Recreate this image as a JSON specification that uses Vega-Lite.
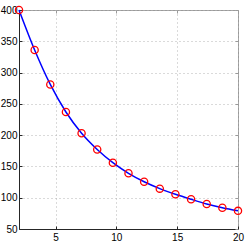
{
  "$schema": "https://vega.github.io/schema/vega-lite/v6.json",
  "width": 219,
  "height": 219,
  "autosize": "none",
  "padding": {"left": 19, "top": 10, "right": 11, "bottom": 12},
  "background": "white",
  "config": {
    "view": {"stroke": "#9a9a9a", "strokeWidth": 1},
    "axis": {
      "labelFont": "Liberation Sans",
      "labelFontSize": 10,
      "labelColor": "#000000",
      "domain": true,
      "domainColor": "#262626",
      "domainWidth": 1,
      "ticks": true,
      "tickColor": "#262626",
      "tickSize": -3,
      "grid": true,
      "gridColor": "#b4b4b4",
      "gridDash": [1, 3],
      "gridWidth": 1,
      "title": null
    }
  },
  "data": {
    "values": [
      {"x": 2, "y": 400},
      {"x": 3.286, "y": 336},
      {"x": 4.571, "y": 281},
      {"x": 5.857, "y": 237},
      {"x": 7.143, "y": 203},
      {"x": 8.429, "y": 177},
      {"x": 9.714, "y": 156},
      {"x": 11, "y": 139},
      {"x": 12.286, "y": 125.5},
      {"x": 13.571, "y": 114.5},
      {"x": 14.857, "y": 105.5},
      {"x": 16.143, "y": 97.5},
      {"x": 17.429, "y": 90},
      {"x": 18.714, "y": 84},
      {"x": 20, "y": 79}
    ]
  },
  "resolve": {"axis": {"x": "independent", "y": "independent"}},
  "layer": [
    {
      "mark": {"type": "line", "color": "#0000ff", "strokeWidth": 1.5, "interpolate": "monotone", "clip": false},
      "encoding": {
        "x": {
          "field": "x",
          "type": "quantitative",
          "scale": {"domain": [2, 20], "nice": false, "zero": false},
          "axis": {"values": [5, 10, 15, 20], "labelPadding": 6, "labelFlush": false}
        },
        "y": {
          "field": "y",
          "type": "quantitative",
          "scale": {"domain": [50, 400], "nice": false, "zero": false},
          "axis": {"values": [50, 100, 150, 200, 250, 300, 350, 400], "labelPadding": 5, "labelFlush": false}
        }
      }
    },
    {
      "mark": {"type": "point", "shape": "circle", "filled": false, "color": "#ff0000", "size": 52, "strokeWidth": 1.3, "opacity": 1, "clip": false},
      "encoding": {
        "x": {
          "field": "x",
          "type": "quantitative",
          "axis": {"orient": "top", "values": [5, 10, 15, 20], "labels": false, "grid": false, "domain": false, "tickColor": "#9a9a9a"}
        },
        "y": {
          "field": "y",
          "type": "quantitative",
          "axis": {"orient": "right", "values": [50, 100, 150, 200, 250, 300, 350, 400], "labels": false, "grid": false, "domain": false, "tickColor": "#9a9a9a"}
        }
      }
    }
  ]
}
